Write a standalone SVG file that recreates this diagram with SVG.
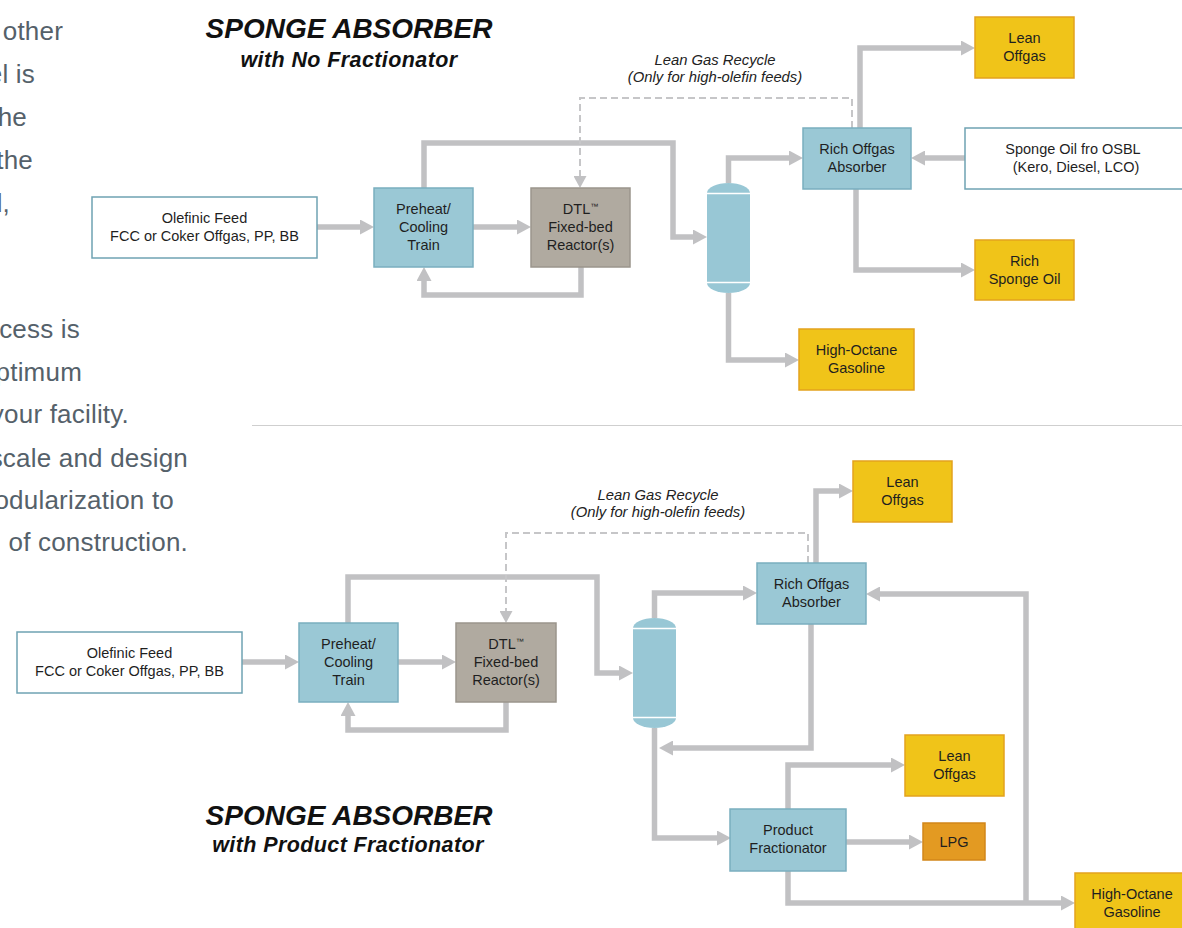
<svg xmlns="http://www.w3.org/2000/svg" width="1182" height="928" viewBox="0 0 1182 928">
<style>
.para{font-family:"Liberation Sans",Arial,sans-serif;font-size:26px;letter-spacing:0.2px;fill:#55616a;text-anchor:end}
.title{font-family:"Liberation Sans",Arial,sans-serif;font-weight:bold;font-style:italic;fill:#111;text-anchor:middle}
.t1{font-size:28px}
.t2{font-size:21.5px;letter-spacing:0.4px}
.lbl{font-family:"Liberation Sans",Arial,sans-serif;font-size:14.5px;fill:#1f1f1f;text-anchor:middle}
.note{font-family:"Liberation Sans",Arial,sans-serif;font-size:14.8px;font-style:italic;fill:#222;text-anchor:middle}
.white{fill:#fff;stroke:#6fa3b3;stroke-width:1.5}
.blue{fill:#9ac8d5;stroke:#7aaebf;stroke-width:1.5}
.grey{fill:#b0aaa0;stroke:#9b958c;stroke-width:1.5}
.yellow{fill:#f0c419;stroke:#e3a21e;stroke-width:1.5}
.orange{fill:#e39a22;stroke:#d2861a;stroke-width:1.5}
.col{fill:#98c7d5}
.gap{stroke:#fff;stroke-width:1.5}
.flow{fill:none;stroke:#c1c1c3;stroke-width:5.5;stroke-linejoin:miter}
.dash{fill:none;stroke:#c6c6c8;stroke-width:2;stroke-dasharray:7 4}
</style>
<defs>
<marker id="arr" markerUnits="userSpaceOnUse" markerWidth="14" markerHeight="15" refX="2" refY="7.5" orient="auto"><path d="M0,0 L14,7.5 L0,15 Z" fill="#c1c1c3"/></marker>
<marker id="arrd" markerUnits="userSpaceOnUse" markerWidth="12" markerHeight="13" refX="2" refY="6.5" orient="auto"><path d="M0,0 L12,6.5 L0,13 Z" fill="#c1c1c3"/></marker>
</defs>
<rect width="1182" height="928" fill="#fff"/>

<g id="paragraph">
<text class="para" x="63" y="40">other</text>
<text class="para" x="35" y="83">el is</text>
<text class="para" x="27" y="126">he</text>
<text class="para" x="33" y="169">the</text>
<text class="para" x="10" y="212">d,</text>
<text class="para" x="80" y="338">ocess is</text>
<text class="para" x="82" y="381">ptimum</text>
<text class="para" x="129" y="423">your facility.</text>
<text class="para" x="188" y="467">scale and design</text>
<text class="para" x="174" y="509">odularization to</text>
<text class="para" x="188" y="551">of construction.</text>
</g>

<line id="separator" x1="252" y1="425.5" x2="1182" y2="425.5" stroke="#cfcfcf" stroke-width="1"/>

<g id="title-top">
<text class="title t1" x="349" y="38">SPONGE ABSORBER</text>
<text class="title t2" x="349" y="67">with No Fractionator</text>
</g>
<g id="title-bottom">
<text class="title t1" x="349" y="825">SPONGE ABSORBER</text>
<text class="title t2" x="348" y="852">with Product Fractionator</text>
</g>

<g id="connectors">
<path class="flow" d="M317,227 H362" marker-end="url(#arr)"/>
<path class="flow" d="M473,227 H519" marker-end="url(#arr)"/>
<path class="flow" d="M581,267 V295 H424 V279" marker-end="url(#arr)"/>
<path class="flow" d="M424,188 V143 H673 V237 H695" marker-end="url(#arr)"/>
<path class="flow" d="M728.5,183 V158 H791" marker-end="url(#arr)"/>
<path class="dash" d="M852,128 V98 H580 V178" marker-end="url(#arrd)"/>
<path class="flow" d="M860,128 V48 H963" marker-end="url(#arr)"/>
<path class="flow" d="M965,158 H923" marker-end="url(#arr)"/>
<path class="flow" d="M856,189 V270 H963" marker-end="url(#arr)"/>
<path class="flow" d="M728.5,293 V360 H787" marker-end="url(#arr)"/>

<path class="flow" d="M242,662 H287" marker-end="url(#arr)"/>
<path class="flow" d="M398,662 H444" marker-end="url(#arr)"/>
<path class="flow" d="M506,702 V730 H348 V714" marker-end="url(#arr)"/>
<path class="flow" d="M348,623 V577 H597 V673 H621" marker-end="url(#arr)"/>
<path class="flow" d="M654.5,618 V593 H745" marker-end="url(#arr)"/>
<path class="dash" d="M808,563 V533 H506 V613" marker-end="url(#arrd)"/>
<path class="flow" d="M816,563 V491 H841" marker-end="url(#arr)"/>
<path class="flow" d="M1026,903 V594 H878" marker-end="url(#arr)"/>
<path class="flow" d="M811,624 V748 H671" marker-end="url(#arr)"/>
<path class="flow" d="M654.5,728 V838 H719" marker-end="url(#arr)"/>
<path class="flow" d="M788,809 V765 H893" marker-end="url(#arr)"/>
<path class="flow" d="M846,842 H911" marker-end="url(#arr)"/>
<path class="flow" d="M788,871 V903 H1063" marker-end="url(#arr)"/>
</g>

<g id="recycle-label-top">
<text class="note" x="715" y="65">Lean Gas Recycle</text>
<text class="note" x="715" y="82">(Only for high-olefin feeds)</text>
</g>
<g id="recycle-label-bottom">
<text class="note" x="658" y="500">Lean Gas Recycle</text>
<text class="note" x="658" y="517">(Only for high-olefin feeds)</text>
</g>

<!-- Top diagram nodes -->
<g id="feed-top">
<rect class="white" x="92" y="197" width="225" height="61"/>
<text class="lbl" x="204.5" y="223">Olefinic Feed</text>
<text class="lbl" x="204.5" y="241">FCC or Coker Offgas, PP, BB</text>
</g>
<g id="preheat-top">
<rect class="blue" x="374" y="188" width="99" height="79"/>
<text class="lbl" x="423.5" y="213.5">Preheat/</text>
<text class="lbl" x="423.5" y="232">Cooling</text>
<text class="lbl" x="423.5" y="250">Train</text>
</g>
<g id="reactor-top">
<rect class="grey" x="531" y="188" width="99" height="79"/>
<text class="lbl" x="580.5" y="213.5">DTL<tspan font-size="8" dy="-5">™</tspan></text>
<text class="lbl" x="580.5" y="232">Fixed-bed</text>
<text class="lbl" x="580.5" y="250">Reactor(s)</text>
</g>
<g id="column-top">
<path class="col" d="M707,193 A21.5,10 0 0 1 750,193 V283 A21.5,10 0 0 1 707,283 Z"/>
<line class="gap" x1="706" y1="193.5" x2="751" y2="193.5"/>
<line class="gap" x1="706" y1="282.5" x2="751" y2="282.5"/>
</g>
<g id="absorber-top">
<rect class="blue" x="803" y="128" width="108" height="61"/>
<text class="lbl" x="857" y="154">Rich Offgas</text>
<text class="lbl" x="857" y="172">Absorber</text>
</g>
<g id="lean-offgas-top">
<rect class="yellow" x="975" y="17" width="99" height="61"/>
<text class="lbl" x="1024.5" y="43">Lean</text>
<text class="lbl" x="1024.5" y="61">Offgas</text>
</g>
<g id="sponge-oil">
<rect class="white" x="965" y="128" width="225" height="61"/>
<text class="lbl" x="1073" y="154">Sponge Oil fro OSBL</text>
<text class="lbl" x="1076" y="172">(Kero, Diesel, LCO)</text>
</g>
<g id="rich-sponge-oil">
<rect class="yellow" x="975" y="240" width="99" height="60"/>
<text class="lbl" x="1024.5" y="266">Rich</text>
<text class="lbl" x="1024.5" y="284">Sponge Oil</text>
</g>
<g id="gasoline-top">
<rect class="yellow" x="799" y="329" width="115" height="61"/>
<text class="lbl" x="856.5" y="355">High-Octane</text>
<text class="lbl" x="856.5" y="373">Gasoline</text>
</g>

<!-- Bottom diagram nodes -->
<g id="feed-bottom">
<rect class="white" x="17" y="632" width="225" height="61"/>
<text class="lbl" x="129.5" y="658">Olefinic Feed</text>
<text class="lbl" x="129.5" y="676">FCC or Coker Offgas, PP, BB</text>
</g>
<g id="preheat-bottom">
<rect class="blue" x="299" y="623" width="99" height="79"/>
<text class="lbl" x="348.5" y="648.5">Preheat/</text>
<text class="lbl" x="348.5" y="667">Cooling</text>
<text class="lbl" x="348.5" y="685">Train</text>
</g>
<g id="reactor-bottom">
<rect class="grey" x="456" y="623" width="100" height="79"/>
<text class="lbl" x="506" y="648.5">DTL<tspan font-size="8" dy="-5">™</tspan></text>
<text class="lbl" x="506" y="667">Fixed-bed</text>
<text class="lbl" x="506" y="685">Reactor(s)</text>
</g>
<g id="column-bottom">
<path class="col" d="M633,628 A21.5,10 0 0 1 676,628 V718 A21.5,10 0 0 1 633,718 Z"/>
<line class="gap" x1="632" y1="628.5" x2="677" y2="628.5"/>
<line class="gap" x1="632" y1="717.5" x2="677" y2="717.5"/>
</g>
<g id="absorber-bottom">
<rect class="blue" x="757" y="563" width="109" height="61"/>
<text class="lbl" x="811.5" y="589">Rich Offgas</text>
<text class="lbl" x="811.5" y="607">Absorber</text>
</g>
<g id="lean-offgas-bottom-1">
<rect class="yellow" x="853" y="461" width="99" height="61"/>
<text class="lbl" x="902.5" y="487">Lean</text>
<text class="lbl" x="902.5" y="505">Offgas</text>
</g>
<g id="lean-offgas-bottom-2">
<rect class="yellow" x="905" y="735" width="99" height="61"/>
<text class="lbl" x="954.5" y="761">Lean</text>
<text class="lbl" x="954.5" y="779">Offgas</text>
</g>
<g id="product-fractionator">
<rect class="blue" x="730" y="809" width="116" height="62"/>
<text class="lbl" x="788" y="835">Product</text>
<text class="lbl" x="788" y="853">Fractionator</text>
</g>
<g id="lpg">
<rect class="orange" x="923" y="823" width="62" height="37"/>
<text class="lbl" x="954" y="846.5">LPG</text>
</g>
<g id="gasoline-bottom">
<rect class="yellow" x="1075" y="873" width="115" height="62"/>
<text class="lbl" x="1132" y="899">High-Octane</text>
<text class="lbl" x="1132" y="917">Gasoline</text>
</g>
</svg>
